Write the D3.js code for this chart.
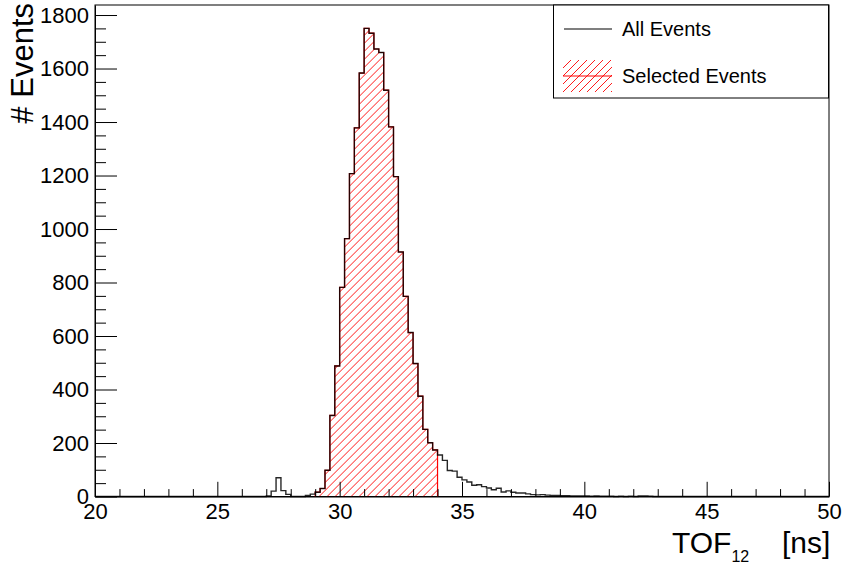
<!DOCTYPE html>
<html>
<head>
<meta charset="utf-8">
<script src="https://cdn.jsdelivr.net/npm/d3@7.9.0/dist/d3.min.js"></script>
<style>
  body { margin: 0; background: #fff; }
  svg { display: block; font-family: "Liberation Sans", Arial, Helvetica, sans-serif; }
</style>
</head>
<body>
<svg id="chart" width="843" height="564"></svg>
<script>
// histogram: 150 bins of 0.2 ns from 20 to 50
const binLow = 20;
const binWidth = 0.2;

// all events, one value per bin
const allCounts = [
  0, 0, 0, 0, 0, 0, 0, 0, 0, 0,          // 20.0 - 21.8
  0, 0, 0, 0, 0, 0, 0, 0, 0, 0,          // 22.0 - 23.8
  0, 0, 0, 0, 0, 0, 0, 0, 0, 0,          // 24.0 - 25.8
  0, 0, 0, 0, 0, 2, 20, 70, 22, 8,       // 26.0 - 27.8
  0, 0, 0, 4, 9, 16, 30, 98, 303, 488,   // 28.0 - 29.8
  782, 964, 1207, 1378, 1583, 1750, 1732, 1673, 1660, 1519, // 30.0 - 31.8
  1382, 1196, 914, 748, 613, 497, 375, 251, 201, 174,        // 32.0 - 33.8
  155, 135, 97, 95, 72, 62, 54, 42, 44, 37,                  // 34.0 - 35.8
  32, 25, 31, 17, 21, 16, 13, 13, 10, 7,                     // 36.0 - 37.8
  6, 7, 5, 4, 4, 3, 3, 2, 2, 2,                              // 38.0 - 39.8
  2, 1, 2, 1, 1, 1, 0, 1, 0, 1,                              // 40.0 - 41.8
  0, 2, 2, 1, 0, 0, 0, 0, 0, 0,                              // 42.0 - 43.8
  0, 0, 0, 0, 0, 0, 0, 0, 0, 0,                              // 44.0 - 45.8
  0, 0, 0, 0, 0, 0, 0, 0, 0, 0,                              // 46.0 - 47.8
  0, 0, 0, 0, 0, 0, 0, 0, 0, 0                               // 48.0 - 49.8
];

// selected events: bins from 29.0 to 34.0
const selLow = 29.0;
const selectedCounts = [
  16, 30, 98, 303, 488,
  782, 964, 1207, 1378, 1583, 1750, 1732, 1673, 1660, 1519,
  1382, 1196, 914, 748, 613, 497, 375, 251, 201, 174
];

const xMajor = [20, 25, 30, 35, 40, 45, 50];
const yMajor = [0, 200, 400, 600, 800, 1000, 1200, 1400, 1600, 1800];
const legendLabels = ['All Events', 'Selected Events'];

const svg = d3.select('#chart');

const padL = 95, padR = 829, padT = 5, padB = 496.5;
const yMax = 1750 * 1.05;

const x = d3.scaleLinear().domain([20, 50]).range([padL, padR]);
const y = d3.scaleLinear().domain([0, yMax]).range([padB, padT]);

const defs = svg.append('defs');

// draws "/" hatch lines inside a clip region
function hatch(g, clipId, x0, x1, y0, y1, gap) {
  const h = y1 - y0;
  const hg = g.append('g').attr('clip-path', `url(#${clipId})`);
  d3.range(x0 - h, x1 + gap, gap).forEach(s => {
    hg.append('line')
      .attr('x1', s).attr('y1', y1)
      .attr('x2', s + h).attr('y2', y0)
      .attr('stroke', '#ff0000')
      .attr('stroke-width', 0.9);
  });
}

// turn a list of counts into step points
function stepPoints(counts, lo) {
  let pts = [[lo, 0]];
  counts.forEach((c, i) => {
    let a = lo + i * binWidth;
    pts.push([a, c]);
    pts.push([a + binWidth, c]);
  });
  pts.push([lo + counts.length * binWidth, 0]);
  return pts;
}

const line = d3.line().x(d => x(d[0])).y(d => y(d[1]));

// frame
svg.append('rect')
  .attr('x', padL).attr('y', padT)
  .attr('width', padR - padL).attr('height', padB - padT)
  .attr('fill', 'none').attr('stroke', '#000').attr('stroke-width', 1);

// selected events (hatched)
const selPts = stepPoints(selectedCounts, selLow);
defs.append('clipPath').attr('id', 'selClip')
  .append('path').attr('d', line(selPts) + 'Z');
hatch(svg, 'selClip', x(selLow), x(selLow + selectedCounts.length * binWidth),
  y(d3.max(selectedCounts)), padB, 8);
svg.append('path')
  .attr('d', line(selPts))
  .attr('fill', 'none')
  .attr('stroke', '#ff0000')
  .attr('stroke-width', 1.2);

// all events outline
svg.append('path')
  .attr('d', line(stepPoints(allCounts, binLow)))
  .attr('fill', 'none')
  .attr('stroke', '#000')
  .attr('stroke-opacity', 0.85)
  .attr('stroke-width', 1.4);

// x axis
const xMinor = d3.range(20, 51, 1).filter(v => v % 5 !== 0);
svg.append('g')
  .attr('transform', `translate(0,${padB})`)
  .call(d3.axisBottom(x).tickValues(xMinor).tickSize(-7.4).tickSizeOuter(0).tickFormat(''))
  .call(g => g.select('.domain').remove());
svg.append('g')
  .attr('transform', `translate(0,${padB})`)
  .call(d3.axisBottom(x).tickValues(xMajor).tickSize(-14.7).tickSizeOuter(0).tickPadding(7)
    .tickFormat(d3.format('d')))
  .call(g => g.selectAll('text').attr('font-size', 22).attr('fill', '#000')
    .attr('font-family', '"Liberation Sans", Arial, sans-serif'));

// y axis
const yMinor = d3.range(0, 1801, 50).filter(v => v % 200 !== 0);
svg.append('g')
  .attr('transform', `translate(${padL},0)`)
  .call(d3.axisLeft(y).tickValues(yMinor).tickSize(-11).tickSizeOuter(0).tickFormat(''))
  .call(g => g.select('.domain').remove());
svg.append('g')
  .attr('transform', `translate(${padL},0)`)
  .call(d3.axisLeft(y).tickValues(yMajor).tickSize(-22).tickSizeOuter(0).tickPadding(6)
    .tickFormat(d3.format('d')))
  .call(g => g.selectAll('text').attr('font-size', 22).attr('fill', '#000')
    .attr('font-family', '"Liberation Sans", Arial, sans-serif'));

svg.selectAll('.tick line').attr('stroke', '#000');
svg.selectAll('.domain').attr('stroke', '#000');

// axis titles
svg.append('text')
  .attr('transform', 'translate(33,3) rotate(-90)')
  .attr('text-anchor', 'end')
  .attr('font-size', 31)
  .text('# Events');

const xt = svg.append('text').attr('y', 553).attr('font-size', 30);
xt.append('tspan').attr('x', 672).text('TOF');
xt.append('tspan').attr('dy', 9).attr('font-size', 16).text('12');
xt.append('tspan').attr('x', 782).attr('dy', -9).text('[ns]');

// legend
const lg = svg.append('g');
lg.append('rect')
  .attr('x', 553.5).attr('y', 5).attr('width', 275).attr('height', 93)
  .attr('fill', '#fff').attr('stroke', '#000').attr('stroke-width', 1);
lg.append('line')
  .attr('x1', 564).attr('x2', 612).attr('y1', 29).attr('y2', 29)
  .attr('stroke', '#000').attr('stroke-width', 1.2);
defs.append('clipPath').attr('id', 'legClip')
  .append('rect').attr('x', 563).attr('y', 60).attr('width', 49).attr('height', 32);
hatch(lg, 'legClip', 563, 612, 60, 92, 8);
lg.append('line')
  .attr('x1', 563).attr('x2', 612).attr('y1', 76).attr('y2', 76)
  .attr('stroke', '#ff0000').attr('stroke-width', 1.2);
legendLabels.forEach((t, i) => {
  lg.append('text')
    .attr('x', 622).attr('y', [29, 76][i])
    .attr('dy', '0.35em')
    .attr('font-size', 20)
    .text(t);
});
</script>
</body>
</html>
